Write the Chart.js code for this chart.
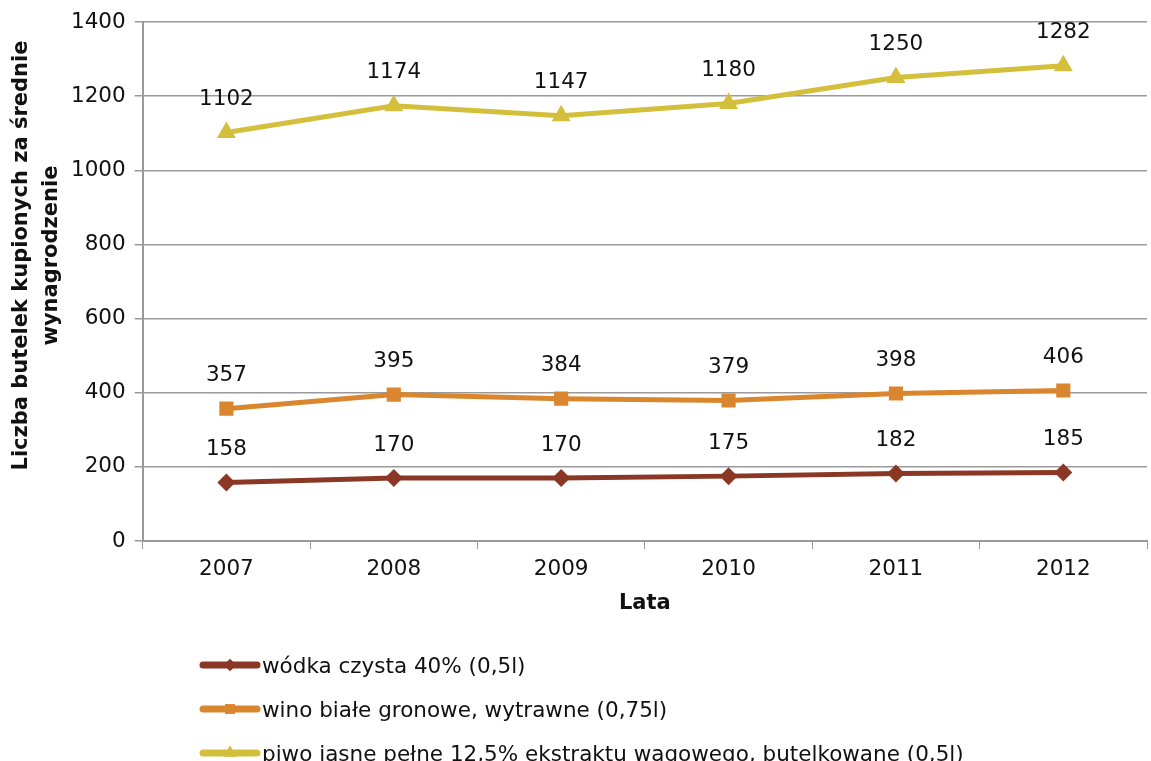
<!DOCTYPE html>
<html lang="pl">
<head>
    <meta charset="UTF-8">
    <title>Liczba butelek kupionych za średnie wynagrodzenie</title>
    <script src="https://cdn.jsdelivr.net/npm/chart.js@4.4.1/dist/chart.umd.min.js"></script>
    <style>
        html, body {
            margin: 0;
            padding: 0;
            background: #fff;
            overflow: hidden;
            font-family: "DejaVu Sans", Verdana, sans-serif;
        }
        .chart-container {
            position: relative;
            width: 1158px;
            height: 630px;
        }
        .legend {
            position: absolute;
            left: 198px;
            top: 643px;
            font-size: 21.5px;
            color: #111;
        }
        .legend-item {
            height: 44px;
            display: flex;
            align-items: center;
        }
        .legend-item canvas {
            margin-right: 0px;
        }
    </style>
</head>
<body>
    <div class="chart-container">
        <canvas id="bottlesChart"></canvas>
    </div>
    <div class="legend" id="legend"></div>

    <script>
        // Data
        const years = ['2007', '2008', '2009', '2010', '2011', '2012'];
        const vodka = [158, 170, 170, 175, 182, 185];
        const wine = [357, 395, 384, 379, 398, 406];
        const beer = [1102, 1174, 1147, 1180, 1250, 1282];

        const seriesNames = [
            'wódka czysta 40% (0,5l)',
            'wino białe gronowe, wytrawne (0,75l)',
            'piwo jasne pełne 12,5% ekstraktu wagowego, butelkowane (0,5l)'
        ];
        const yTitle = ['Liczba butelek kupionych za średnie', 'wynagrodzenie'];
        const seriesColors = ['#8a3825', '#d9862e', '#d4bf3c'];
        const seriesMarkers = ['rectRot', 'rect', 'triangle'];
        const markerSizes = [9, 10, 11];

        const fontFamily = '"DejaVu Sans", Verdana, sans-serif';

        // Value labels above each point
        const valueLabels = {
            id: 'valueLabels',
            afterDatasetsDraw(chart) {
                const ctx = chart.ctx;
                ctx.save();
                ctx.font = '21.5px ' + fontFamily;
                ctx.fillStyle = '#111';
                ctx.textAlign = 'center';
                ctx.textBaseline = 'middle';
                chart.data.datasets.forEach((ds, i) => {
                    chart.getDatasetMeta(i).data.forEach((pt, j) => {
                        ctx.fillText(ds.data[j], pt.x, pt.y - 33);
                    });
                });
                ctx.restore();
            }
        };

        // Y axis title, drawn by hand so it sits a bit above the plot centre like the original
        const yAxisTitle = {
            id: 'yAxisTitle',
            afterDraw(chart) {
                const ctx = chart.ctx;
                const cy = chart.chartArea.top + (chart.chartArea.bottom - chart.chartArea.top) * 0.45;
                ctx.save();
                ctx.font = 'bold 21px ' + fontFamily;
                ctx.fillStyle = '#111';
                ctx.textAlign = 'center';
                ctx.textBaseline = 'middle';
                yTitle.forEach((line, i) => {
                    ctx.save();
                    ctx.translate(22 + i * 30, cy);
                    ctx.rotate(-Math.PI / 2);
                    ctx.fillText(line, 0, 0);
                    ctx.restore();
                });
                ctx.restore();
            }
        };

        const datasets = [vodka, wine, beer].map((values, i) => ({
            label: seriesNames[i],
            data: values,
            borderColor: seriesColors[i],
            backgroundColor: seriesColors[i],
            borderWidth: 5,
            pointStyle: seriesMarkers[i],
            pointRadius: markerSizes[i],
            pointHoverRadius: markerSizes[i],
            pointBorderWidth: 0,
            tension: 0,
            fill: false
        }));

        const ctx = document.getElementById('bottlesChart').getContext('2d');
        new Chart(ctx, {
            type: 'line',
            data: { labels: years, datasets: datasets },
            plugins: [valueLabels, yAxisTitle],
            options: {
                responsive: true,
                maintainAspectRatio: false,
                animation: false,
                layout: { padding: { top: 22, right: 0, left: 62, bottom: 10 } },
                plugins: {
                    legend: { display: false },
                    tooltip: { enabled: false }
                },
                scales: {
                    x: {
                        offset: true,
                        grid: {
                            display: true,
                            offset: true,
                            drawOnChartArea: false,
                            tickLength: 8,
                            color: '#9a9a9a'
                        },
                        border: { color: '#9a9a9a', width: 2 },
                        ticks: {
                            color: '#111',
                            font: { family: fontFamily, size: 21.5 },
                            padding: 8
                        },
                        title: {
                            display: true,
                            text: 'Lata',
                            color: '#111',
                            font: { family: fontFamily, size: 21, weight: 'bold' },
                            padding: { top: 0 }
                        }
                    },
                    y: {
                        min: 0,
                        max: 1400,
                        ticks: {
                            stepSize: 200,
                            color: '#111',
                            font: { family: fontFamily, size: 21.5 },
                            padding: 9,
                            callback: v => String(v)
                        },
                        grid: {
                            color: '#9a9a9a',
                            lineWidth: 1.5,
                            tickLength: 8
                        },
                        border: { color: '#9a9a9a', width: 2 }
                    }
                }
            }
        });

        // Legend, one row per series, with a small line + marker swatch
        const legend = document.getElementById('legend');
        seriesNames.forEach((name, i) => {
            const item = document.createElement('div');
            item.className = 'legend-item';
            const sw = document.createElement('canvas');
            sw.width = 64;
            sw.height = 24;
            const c = sw.getContext('2d');
            c.strokeStyle = seriesColors[i];
            c.fillStyle = seriesColors[i];
            c.lineWidth = 7;
            c.lineCap = 'round';
            c.beginPath();
            c.moveTo(5, 12);
            c.lineTo(59, 12);
            c.stroke();
            Chart.helpers.drawPoint(c, { pointStyle: seriesMarkers[i], radius: markerSizes[i] * 0.7, borderWidth: 0 }, 32, 12);
            item.appendChild(sw);
            const text = document.createElement('span');
            text.textContent = name;
            item.appendChild(text);
            legend.appendChild(item);
        });
    </script>
</body>
</html>
